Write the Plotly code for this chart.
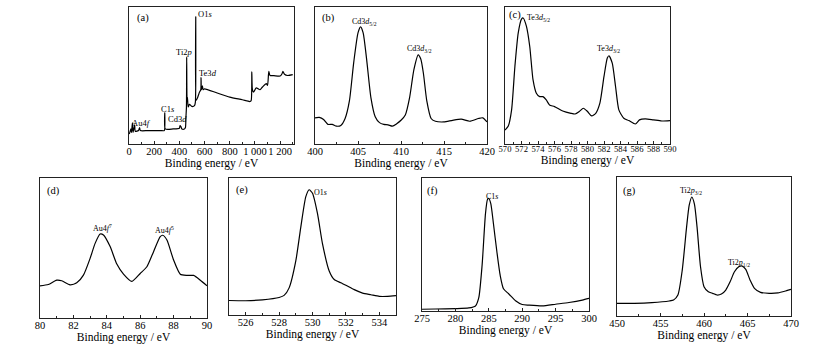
import plotly.graph_objects as go

# ---------------- data ----------------
a_x = [0, 5, 15, 20, 27, 32, 45, 50, 75, 84, 90, 150, 250, 280, 284, 288, 350, 400, 405, 412, 420, 440, 448, 452, 456,
       458, 461, 464, 470, 480, 500, 520, 527, 530, 533, 545, 560, 570, 572, 575, 583, 588, 600, 700, 800, 900, 960,
       970, 975, 980, 990, 1010, 1040, 1060, 1090, 1100, 1110, 1120, 1150, 1200, 1215, 1222, 1235, 1260, 1300]
a_y = [7.3, 8, 11, 8.5, 15.4, 8.5, 14, 9.3, 9.8, 12, 9.8, 9.8, 9.8, 9.8, 22.7, 11, 11, 11.5, 13.4, 12.7, 11, 11, 12,
       19.5, 27, 63.6, 31.8, 34, 27, 29, 27.4, 28, 30.6, 92.9, 31.8, 34, 37.9, 39.6, 48.4, 39.6, 42.5, 39.6, 40.3,
       37.2, 34.2, 32.3, 31, 31.8, 52.6, 39.6, 37.9, 41, 39.6, 41.6, 44, 42.8, 53, 50, 49.9, 49.6, 51.3, 53, 50.9,
       50, 50.6]

b_x = [400, 400.5, 401, 401.5, 402, 402.5, 403, 403.5, 404, 404.5, 405, 405.3, 405.6, 406, 406.5, 407, 407.5, 408,
       408.5, 409, 409.5, 410, 410.5, 411, 411.5, 412, 412.3, 412.6, 413, 413.5, 414, 415, 416, 417, 418, 419, 419.5, 420]
b_y = [19.1, 19.4, 17.9, 14.3, 14.3, 13.0, 13.5, 18.6, 31.4, 59.4, 81.1, 85.5, 81.1, 62, 33.9, 19.9, 15.6, 14.3, 14.0,
       13.0, 14.8, 17.3, 21.2, 33.9, 54.3, 65.1, 62, 51.8, 31.4, 18.6, 16.6, 16.1, 17.3, 18.1, 16.6, 18.6, 19.1, 16.1]

c_x = [570, 570.4, 570.8, 571.2, 571.6, 572, 572.2, 572.6, 573, 573.4, 573.8, 574.2, 574.6, 575, 575.4, 576, 577, 578,
       578.5, 579, 579.5, 580, 580.5, 581, 581.5, 582, 582.4, 582.6, 583, 583.4, 583.8, 584.4, 585, 585.8, 586.3,
       587, 588, 589, 590]
c_y = [10.2, 13.2, 24.9, 56.6, 81, 91.2, 92, 85.8, 71.2, 46.8, 37.1, 34.6, 34.6, 32.2, 28.5, 27.3, 24.1, 22.4, 21.9,
       23.7, 26.1, 23.7, 20.5, 22.4, 29.8, 49.3, 62.7, 64.4, 59, 42, 24.9, 18.8, 17.1, 14.6, 17.6, 18.3, 17.6, 16.8, 17.1]

d_x = [80, 80.5, 81, 81.3, 81.8, 82.2, 82.6, 83, 83.3, 83.6, 83.8, 84.2, 84.6, 85, 85.5, 86, 86.4, 86.8, 87.2, 87.35,
       87.6, 88, 88.4, 88.8, 89.2, 89.6, 90]
d_y = [23, 23.9, 27, 26.6, 23.7, 25.1, 30.6, 42.6, 53.3, 60, 59.3, 51, 38.5, 31.3, 26.1, 31.8, 36.6, 47.4, 58.1, 59.1,
       55.7, 41.4, 31.3, 30.4, 30.4, 27, 23]

e_x = [525, 526, 527, 528, 528.3, 528.6, 529, 529.3, 529.6, 529.8, 530, 530.3, 530.6, 531, 531.3, 531.7, 532, 532.5,
       533, 533.5, 534, 534.5, 535]
e_y = [10.6, 10.4, 11.1, 12.8, 14.3, 19.8, 39.5, 64.2, 86.4, 91.4, 88.9, 74, 51.9, 32.1, 25.9, 23.5, 21.7, 18.5, 16,
       14.8, 13.6, 13.6, 14.1]

f_x = [275, 277, 280, 282, 283, 283.5, 284, 284.5, 284.8, 285, 285.3, 285.7, 286.2, 286.7, 287.2, 288, 289, 290, 291,
       293, 295, 297, 299, 300]
f_y = [1.3, 1.5, 1.8, 2.3, 3.8, 10, 34.6, 73, 83.8, 84.6, 80.8, 65.4, 44.9, 26.9, 16.7, 12.8, 7.7, 4.9, 4.4, 3.8, 5.1,
       6.4, 8.2, 9.5]

g_x = [450, 452, 454, 456, 456.5, 457, 457.5, 458, 458.3, 458.6, 458.9, 459.2, 459.6, 460, 460.5, 461, 461.5, 462,
       462.5, 463, 463.5, 464, 464.4, 464.8, 465.3, 465.8, 466.5, 467.5, 468.5, 469.5, 470]
g_y = [9.1, 9.1, 9.6, 10.8, 11.5, 15.1, 33, 64.1, 79.7, 85.6, 80.5, 64.1, 35.4, 21.1, 17.5, 16.3, 15.1, 15.8, 18.7,
       24.6, 31.8, 35.4, 35.9, 33.5, 25.8, 19.9, 17, 16.3, 16.6, 18.2, 19.1]

a_ticks = [0, 200, 400, 600, 800, 1000, 1200]
a_ticktext = ["0", "200", "400", "600", "800", "1 000", "1 200"]

# ---------------- layout ----------------
W, H = 823, 352
FONT = "Liberation Serif"

def dom(x0, x1, y0, y1):
    return [x0 / W, x1 / W], [1 - y1 / H, 1 - y0 / H]

panels = [
    # name, xs, ys, range, dtick, minor, box(px), title standoff, tick font size
    ("a", a_x, a_y, [0, 1310], 200, 100, (129, 294, 7, 144), 0, 10.5),
    ("b", b_x, b_y, [400, 420], 5, 2.5, (315, 487, 7, 144), 0, 10.5),
    ("c", c_x, c_y, [570, 590], 2, 1, (505, 670, 7, 144), 0, 8.6),
    ("d", d_x, d_y, [80, 90], 2, 1, (40, 207, 178, 318), 2, 10.5),
    ("e", e_x, e_y, [525, 535], 2, 1, (229, 396, 178, 315), 2, 10.5),
    ("f", f_x, f_y, [275, 300], 5, 2.5, (422, 589, 178, 311), 2, 10.5),
    ("g", g_x, g_y, [450, 470], 5, 2.5, (617, 791, 177, 316), 2, 10.5),
]

fig = go.Figure()
layout = dict(width=W, height=H, margin=dict(l=0, r=0, t=0, b=0, pad=0, autoexpand=False),
              paper_bgcolor="white", plot_bgcolor="white", showlegend=False,
              font=dict(family=FONT, color="black", size=10))

for i, (name, xs, ys, rng, dt, mn, box, so, tfs) in enumerate(panels):
    k = "" if i == 0 else str(i + 1)
    xd, yd = dom(*box)
    fig.add_trace(go.Scatter(x=xs, y=ys, mode="lines", line=dict(color="black", width=1.2, shape="spline",
                                                                    smoothing=0.6),
                             xaxis="x" + k, yaxis="y" + k, hoverinfo="skip"))
    xa = dict(domain=xd, range=rng, anchor="y" + k, showline=True, mirror=True, linecolor="#222", linewidth=1,
              ticks="inside", ticklen=3, tickcolor="#222", showgrid=False, zeroline=False, automargin=False,
              tickangle=0, ticklabelstandoff=-3,
              tickfont=dict(family=FONT, size=tfs, color="black"),
              minor=dict(ticks="inside", ticklen=2, tickcolor="#222", dtick=mn),
              title=dict(text="Binding energy / eV", font=dict(family=FONT, size=11.5, color="black"),
                         standoff=so))
    if name == "a":
        xa.update(tickmode="array", tickvals=a_ticks, ticktext=a_ticktext)
    else:
        xa.update(dtick=dt, tick0=0)
    ya = dict(domain=yd, range=[0, 100], anchor="x" + k, showline=True, mirror=True, linecolor="#222",
              linewidth=1, ticks="", showticklabels=False, showgrid=False, zeroline=False, automargin=False)
    layout["xaxis" + k] = xa
    layout["yaxis" + k] = ya

fig.update_layout(**layout)

def ann(ax, x, y, text, size=8.5, xanchor="center"):
    k = "" if ax == 1 else str(ax)
    fig.add_annotation(x=x, y=y, xref="x" + k, yref="y" + k, text=text, showarrow=False,
                       xanchor=xanchor, yanchor="middle", font=dict(family=FONT, size=size, color="black"))

# panel letters
ann(1, 45, 92, "(a)", 10.5, "left")
ann(2, 400.6, 92, "(b)", 10.5, "left")
ann(3, 570.3, 94, "(c)", 10.5, "left")
ann(4, 80.3, 91, "(d)", 10.5, "left")
ann(5, 525.3, 91, "(e)", 10.5, "left")
ann(6, 275.5, 90, "(f)", 10.5, "left")
ann(7, 450.5, 90, "(g)", 10.5, "left")

# peak labels
ann(1, 528, 95, "O1<i>s</i>", 8.5, "left")
ann(1, 435, 67, "Ti2<i>p</i>", 8.5)
ann(1, 624, 52, "Te3<i>d</i>", 8.5)
ann(1, 307, 25.7, "C1<i>s</i>", 8.5)
ann(1, 384, 18, "Cd3<i>d</i>", 8.5)
ann(1, 99, 15.4, "Au4<i>f</i>", 8.5)

ann(2, 405.7, 89, "Cd3<i>d</i><sub>5/2</sub>", 8)
ann(2, 412.2, 69, "Cd3<i>d</i><sub>3/2</sub>", 8)

ann(3, 574.1, 92, "Te3<i>d</i><sub>5/2</sub>", 8)
ann(3, 582.6, 69.5, "Te3<i>d</i><sub>3/2</sub>", 8)

ann(4, 83.75, 64, "Au4<i>f</i><sup>7</sup>", 8)
ann(4, 87.47, 63, "Au4<i>f</i><sup>5</sup>", 8)

ann(5, 529.95, 89.4, "O1<i>s</i>", 8, "left")
ann(6, 285.5, 86, "C1<i>s</i>", 8)
ann(7, 458.5, 89.7, "Ti2<i>p</i><sub>3/2</sub>", 8)
ann(7, 464.0, 38.3, "Ti2<i>p</i><sub>1/2</sub>", 8)

fig.write_html("out.html", config={"displayModeBar": False, "staticPlot": True},
               post_script="document.body.style.margin='0';document.body.style.overflow='hidden';")
